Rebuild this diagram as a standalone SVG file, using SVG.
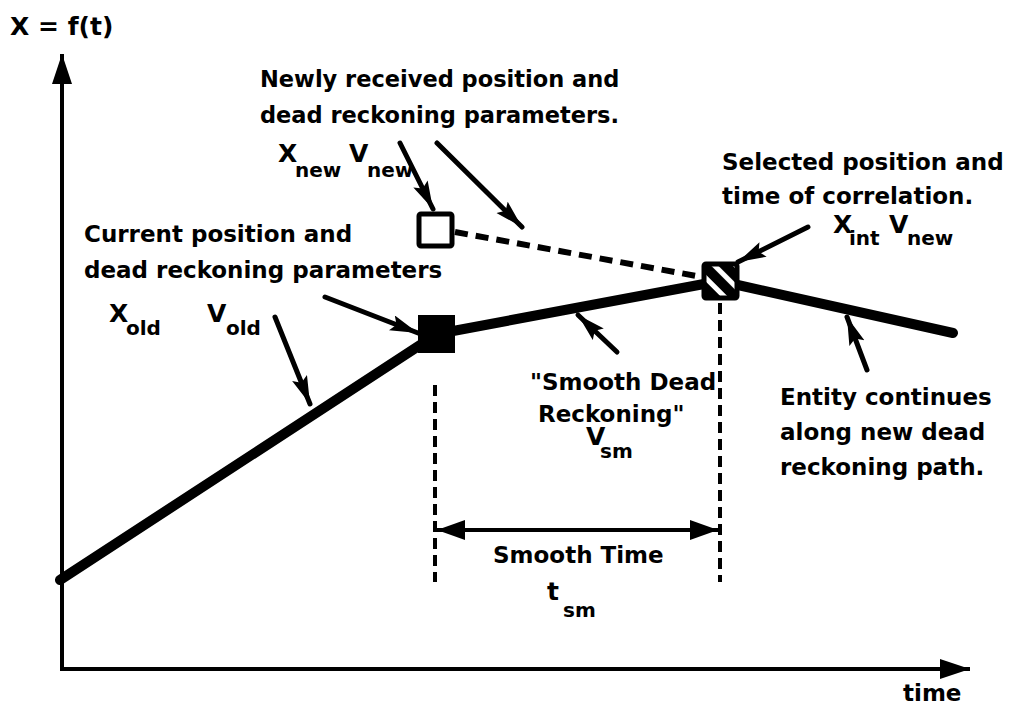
<svg xmlns="http://www.w3.org/2000/svg" width="1014" height="706" viewBox="0 0 1014 706">
<style>
text{font-family:"DejaVu Sans","Liberation Sans",sans-serif;font-weight:bold;font-size:23px;fill:#000}
.sub{font-size:20px}
.big{font-size:25px}
.ax{stroke:#000;stroke-width:4;fill:none}
.arr{stroke:#000;stroke-width:5;fill:none;stroke-linecap:round}
.dash{stroke:#000;stroke-width:4;fill:none;stroke-dasharray:11 6}
</style>
<defs>
<marker id="ah" markerUnits="userSpaceOnUse" markerWidth="32" markerHeight="18" refX="28" refY="8" orient="auto">
<path d="M0,0 L28,8 L0,16 L5,8 Z" fill="#000"/>
</marker>
<marker id="axh" markerUnits="userSpaceOnUse" markerWidth="32" markerHeight="22" refX="30" refY="10" orient="auto">
<path d="M0,0 L30,10 L0,20 Z" fill="#000"/>
</marker>
<marker id="dh" markerUnits="userSpaceOnUse" markerWidth="30" markerHeight="22" refX="28" refY="10" orient="auto-start-reverse">
<path d="M0,0 L28,10 L0,20 Z" fill="#000"/>
</marker>
<pattern id="hatch" patternUnits="userSpaceOnUse" width="15" height="15" patternTransform="rotate(-45)">
<rect width="15" height="15" fill="#000"/>
<rect x="0" y="0" width="5" height="15" fill="#fff"/>
</pattern>
</defs>
<rect width="1014" height="706" fill="#fff"/>

<g id="axes">
<line class="ax" x1="62" y1="670" x2="62" y2="54" marker-end="url(#axh)"/>
<line class="ax" x1="60" y1="669" x2="970" y2="669" marker-end="url(#axh)"/>
<text x="10" y="35" style="font-size:25px">X = f(t)</text>
<text x="903" y="701">time</text>
</g>

<g id="connectors">
<polyline points="60,580 437,334 720,281 953,333" fill="none" stroke="#000" stroke-width="10" stroke-linejoin="round" stroke-linecap="round"/>
<line x1="455" y1="232" x2="702" y2="277" stroke="#000" stroke-width="6" stroke-dasharray="13 8"/>
<line class="dash" x1="435" y1="385" x2="435" y2="582"/>
<line class="dash" x1="720" y1="303" x2="720" y2="582"/>
<line x1="437" y1="530" x2="718" y2="530" stroke="#000" stroke-width="4" marker-start="url(#dh)" marker-end="url(#dh)"/>
<line class="arr" x1="400" y1="143" x2="433" y2="209" marker-end="url(#ah)"/>
<line class="arr" x1="437" y1="143" x2="522" y2="227" marker-end="url(#ah)"/>
<line class="arr" x1="808" y1="227" x2="738" y2="262" marker-end="url(#ah)"/>
<line class="arr" x1="325" y1="297" x2="418" y2="333" marker-end="url(#ah)"/>
<line class="arr" x1="275" y1="317" x2="310" y2="404" marker-end="url(#ah)"/>
<line class="arr" x1="617" y1="352" x2="578" y2="315" marker-end="url(#ah)"/>
<line class="arr" x1="867" y1="370" x2="847" y2="317" marker-end="url(#ah)"/>
</g>

<g id="node-current">
<rect x="418" y="315" width="37" height="38" fill="#000"/>
</g>
<g id="node-new">
<rect x="419" y="214" width="33" height="32" rx="2" fill="#fff" stroke="#000" stroke-width="5"/>
</g>
<g id="node-intersect">
<rect x="704" y="264" width="33" height="34" rx="2" fill="url(#hatch)" stroke="#000" stroke-width="5"/>
</g>

<g id="labels">
<text x="260" y="87" style="font-size:22.5px">Newly received position and</text>
<text x="260" y="123" style="font-size:22.5px">dead reckoning parameters.</text>
<text x="278" y="162" class="big">X</text><text x="295" y="177" class="sub">new</text>
<text x="349" y="162" class="big">V</text><text x="367" y="177" class="sub">new</text>

<text x="722" y="170">Selected position and</text>
<text x="722" y="204">time of correlation.</text>
<text x="833" y="233" class="big">X</text><text x="849" y="245" class="sub">int</text>
<text x="889" y="233" class="big">V</text><text x="907" y="245" class="sub">new</text>

<text x="84" y="242">Current position and</text>
<text x="84" y="278">dead reckoning parameters</text>
<text x="109" y="322" class="big">X</text><text x="126" y="335" class="sub">old</text>
<text x="207" y="322" class="big">V</text><text x="226" y="335" class="sub">old</text>

<text x="530" y="390">"Smooth Dead</text>
<text x="538" y="422">Reckoning"</text>
<text x="586" y="445" class="big">V</text><text x="600" y="458" class="sub">sm</text>

<text x="493" y="563">Smooth Time</text>
<text x="547" y="600" class="big">t</text><text x="563" y="617" class="sub">sm</text>

<text x="780" y="405">Entity continues</text>
<text x="780" y="440">along new dead</text>
<text x="780" y="475">reckoning path.</text>
</g>
</svg>
